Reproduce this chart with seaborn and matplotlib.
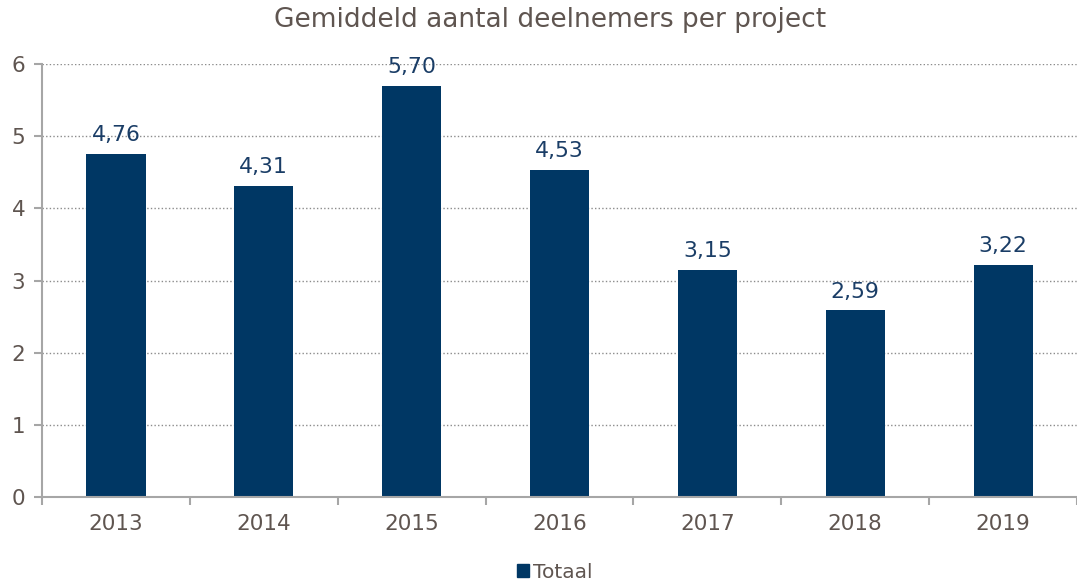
import matplotlib
matplotlib.use("Agg")
import matplotlib.pyplot as plt
import seaborn as sns
import pandas as pd
import numpy as np
from matplotlib.patches import Patch

years = ["2013", "2014", "2015", "2016", "2017", "2018", "2019"]
totaal = [4.76, 4.31, 5.70, 4.53, 3.15, 2.59, 3.22]
labels = ["4,76", "4,31", "5,70", "4,53", "3,15", "2,59", "3,22"]

df = pd.DataFrame({"jaar": years, "Totaal": totaal})

sns.set_theme(style="white")
plt.rcParams['font.family'] = ['DejaVu Sans']

navy = "#003764"
grey_txt = "#5f5550"
axis_col = "#a6a6a6"

fig = plt.figure(figsize=(10.77, 5.85), dpi=100)
ax = fig.add_axes([0.039, 0.150, 0.961, 0.7406])

sns.barplot(data=df, x="jaar", y="Totaal", color=navy, saturation=1, width=0.40, ax=ax,
            linewidth=0)

ax.set_ylim(0, 6)
ax.set_xlim(-0.5, len(years) - 0.5)
ax.set_yticks(range(0, 7))
ax.set_xlabel("")
ax.set_ylabel("")

for i, (v, lab) in enumerate(zip(totaal, labels)):
    ax.text(i, v + 0.12, lab, ha="center", va="bottom", color="#1a3d66", fontsize=15.8)

for y in range(1, 7):
    ax.axhline(y, color="#8c8c8c", linestyle=(0, (1, 1.6)), linewidth=1.0, zorder=0)

for s in ["top", "right"]:
    ax.spines[s].set_visible(False)
for s in ["left", "bottom"]:
    ax.spines[s].set_color(axis_col)
    ax.spines[s].set_linewidth(1.5)

ax.tick_params(axis="y", which="both", left=True, length=6, width=1.5, color=axis_col,
               labelsize=15.5, labelcolor=grey_txt, pad=6)
ax.tick_params(axis="x", which="major", bottom=False, labelsize=15.5, labelcolor=grey_txt, pad=6)
ax.set_xticks(np.arange(-0.5, len(years), 1), minor=True)
ax.tick_params(axis="x", which="minor", bottom=True, length=6, width=1.5, color=axis_col)

fig.text(0.511, 0.965, "Gemiddeld aantal deelnemers per project", ha="center", va="center",
         fontsize=19, color=grey_txt)

handles = [Patch(facecolor=navy, edgecolor=navy, label="Totaal")]
leg = fig.legend(handles=handles, loc="center", bbox_to_anchor=(0.515, 0.022), frameon=False,
                 fontsize=14.5, handlelength=0.6, handleheight=0.6, handletextpad=0.2)
for t in leg.get_texts():
    t.set_color(grey_txt)

fig.savefig("out.png", dpi=100)
